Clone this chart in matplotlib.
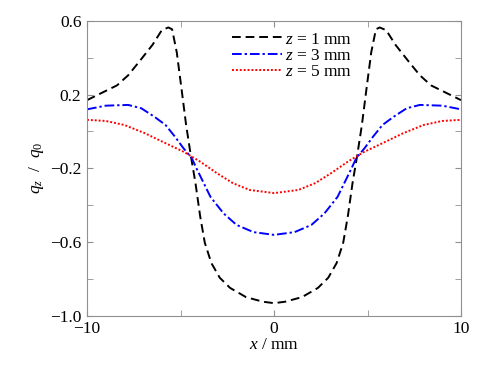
import matplotlib
matplotlib.use("Agg")
import matplotlib.pyplot as plt
from matplotlib.ticker import FixedLocator

plt.rcParams['font.family'] = ['Liberation Serif', 'DejaVu Serif']
plt.rcParams['mathtext.fontset'] = 'custom'
plt.rcParams['mathtext.it'] = 'Liberation Serif:italic'
plt.rcParams['mathtext.rm'] = 'Liberation Serif'

# z = 1 mm
x1 = [-10, -9.2, -8.4, -7.8, -7.2, -6.5, -6.0, -5.65, -5.45, -5.2, -4.95, -4.7, -4.45,
      -4.2, -3.95, -3.7, -3.35, -2.9, -2.35, -1.5, -0.6, 0,
      0.6, 1.5, 2.35, 2.9, 3.35, 3.7, 3.95, 4.2, 4.45, 4.7, 4.95, 5.2, 5.45, 5.65,
      6.0, 6.5, 7.2, 7.8, 8.4, 9.2, 10]
q1 = [0.17, 0.21, 0.25, 0.305, 0.38, 0.47, 0.55, 0.565, 0.555, 0.43, 0.235, 0.035, -0.13,
      -0.28, -0.46, -0.605, -0.715, -0.795, -0.85, -0.9, -0.925, -0.933,
      -0.925, -0.9, -0.85, -0.795, -0.715, -0.605, -0.46, -0.28, -0.13, 0.035, 0.235, 0.43, 0.555, 0.565,
      0.55, 0.47, 0.38, 0.305, 0.25, 0.21, 0.17]

# z = 3 mm
x3 = [-10, -9.0, -7.8, -7.1, -6.4, -5.8, -5.3, -4.85, -4.4, -4.1, -3.4, -2.7, -2.0, -1.1, 0,
      1.1, 2.0, 2.7, 3.4, 4.1, 4.4, 4.85, 5.3, 5.8, 6.4, 7.1, 7.8, 9.0, 10]
q3 = [0.12, 0.14, 0.144, 0.126, 0.08, 0.035, -0.028, -0.09, -0.145, -0.21, -0.355, -0.445, -0.508, -0.547, -0.562,
      -0.547, -0.508, -0.445, -0.355, -0.21, -0.145, -0.09, -0.028, 0.035, 0.08, 0.126, 0.144, 0.14, 0.12]

# z = 5 mm
x5 = [-10, -9.0, -8.0, -6.9, -5.8, -4.8, -3.95, -3.05, -2.2, -1.3, 0,
      1.3, 2.2, 3.05, 3.95, 4.8, 5.8, 6.9, 8.0, 9.0, 10]
q5 = [0.063, 0.057, 0.035, -0.01, -0.064, -0.112, -0.164, -0.227, -0.281, -0.318, -0.335,
      -0.318, -0.281, -0.227, -0.164, -0.112, -0.064, -0.01, 0.035, 0.057, 0.063]

labels = ['$z$ = 1 mm', '$z$ = 3 mm', '$z$ = 5 mm']

fig = plt.figure(figsize=(4.96, 3.70), dpi=100)
ax = fig.add_axes([87 / 496, 1 - 315.5 / 370, 374 / 496, 294.5 / 370])

ax.plot(x1, q1, color='black', linestyle=(0, (4.5, 2.5)), lw=1.4, label=labels[0])
ax.plot(x3, q3, color='blue', linestyle=(0, (5, 1.5, 1.2, 1.5)), lw=1.4, label=labels[1])
ax.plot(x5, q5, color='red', linestyle=(0, (1, 1)), lw=1.4, label=labels[2])

ax.set_xlim(-10, 10)
ax.set_ylim(-1.0, 0.6)
ax.xaxis.set_major_locator(FixedLocator([-10, 0, 10]))
ax.xaxis.set_minor_locator(FixedLocator([-5, 5]))
ax.yaxis.set_major_locator(FixedLocator([-1.0, -0.6, -0.2, 0.2, 0.6]))
ax.yaxis.set_minor_locator(FixedLocator([-0.8, -0.4, 0.0, 0.4]))
ax.set_xticklabels(['\u221210', '0', '10'])
ax.set_yticklabels(['\u22121.0', '\u22120.6', '\u22120.2', '0.2', '0.6'])

for side in ax.spines.values():
    side.set_color('#909090')
ax.tick_params(which='both', direction='in', top=True, right=True, color='#909090',
               labelsize=12.5, labelcolor='black', pad=4, length=4)

ax.set_xlabel('$x$ / mm', fontsize=12.5, labelpad=0)
ax.set_ylabel('$q_z$  /  $q_0$', fontsize=12.5, labelpad=3)

ax.legend(loc='upper left', bbox_to_anchor=(0.36, 1.0), frameon=False, fontsize=12.5,
          handlelength=2.9, handletextpad=0.15, labelspacing=0.0, borderaxespad=0.2)

fig.savefig('out.png', dpi=100)
